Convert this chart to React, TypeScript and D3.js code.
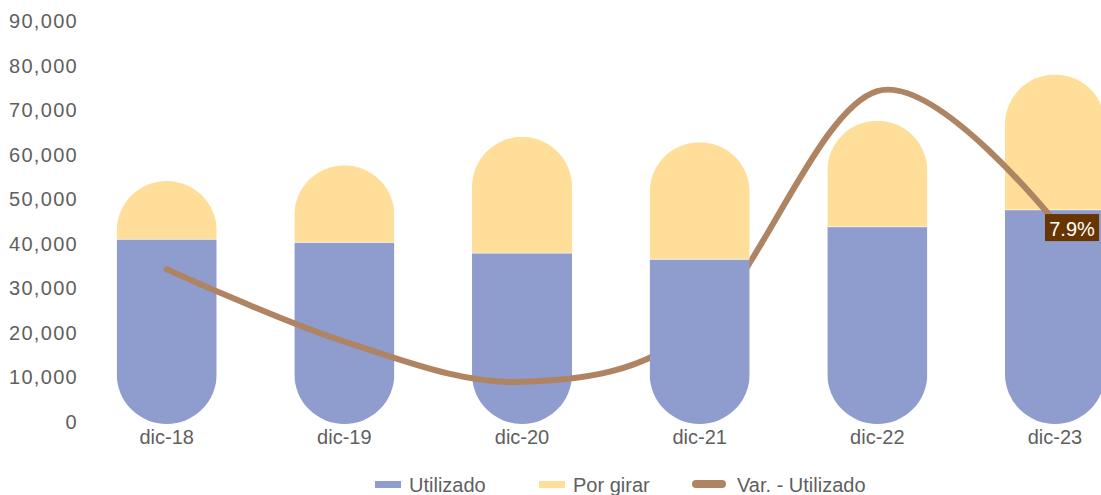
import React from "react";
import * as d3 from "d3";

const categories = ["dic-18", "dic-19", "dic-20", "dic-21", "dic-22", "dic-23"];
const utilizado = [41000, 40300, 37900, 36500, 43800, 47600];
const porGirar = [13100, 17300, 26100, 26300, 23800, 30400];
const varUtilizado = [3.8, -2.5, -6.0, -1.2, 19.3, 7.9];
const yTicks = [0, 10000, 20000, 30000, 40000, 50000, 60000, 70000, 80000, 90000];
const labeledPoints = ["dic-23"];
const barsAboveLine = ["dic-21"];

const W = 1101;
const H = 495;
const BLUE = "#8E9CCE";
const YELLOW = "#FFDE99";
const LINE = "#AF8462";
const TEXT = "#5f5f5f";
const FONT = "'Liberation Sans', Arial, sans-serif";

export default function App() {
  const x = d3.scalePoint<string>().domain(categories).range([166.7, 1055]);
  const y = d3.scaleLinear().domain([0, 90000]).range([422, 21]);
  const y2 = d3.scaleLinear().domain([-9.5, 25.4]).range([422, 21]);
  const barW = 100;
  const fmt = d3.format(",");

  const lineGen = d3
    .line<number>()
    .x((_, i) => x(categories[i]) as number)
    .y((d) => y2(d))
    .curve(d3.curveCardinal.tension(0));

  const bar = (c: string, i: number) => {
    const cx = x(c) as number;
    const total = utilizado[i] + porGirar[i];
    const top = y(total);
    const bottom = y(0) + 2;
    const id = `clip-${i}`;
    return (
      <g key={c}>
        <defs>
          <clipPath id={id}>
            <rect x={cx - barW / 2} y={top} width={barW} height={bottom - top} rx={barW / 2} ry={barW / 2} />
          </clipPath>
        </defs>
        <g clipPath={`url(#${id})`}>
          <rect x={cx - barW / 2} y={y(utilizado[i])} width={barW} height={bottom - y(utilizado[i])} fill={BLUE} />
          <rect x={cx - barW / 2} y={top} width={barW} height={y(utilizado[i]) - top} fill={YELLOW} />
          <line x1={cx - barW / 2} x2={cx + barW / 2} y1={y(utilizado[i])} y2={y(utilizado[i])} stroke="#ffffff" strokeOpacity={0.5} strokeWidth={1} />
        </g>
      </g>
    );
  };

  return (
    <svg width={W} height={H} style={{ position: "absolute", left: 0, top: 0, background: "#fff" }} fontFamily={FONT}>
      {yTicks.map((t) => (
        <text key={t} x={78} y={y(t)} textAnchor="end" dominantBaseline="central" fontSize={20} fill={TEXT} letterSpacing={1.3}>
          {fmt(t)}
        </text>
      ))}
      {categories.map((c) => (
        <text key={c} x={x(c) as number} y={437} textAnchor="middle" dominantBaseline="central" fontSize={20} fill={TEXT}>
          {c}
        </text>
      ))}
      {categories.map((c, i) => (barsAboveLine.includes(c) ? null : bar(c, i)))}
      <path d={lineGen(varUtilizado) || ""} fill="none" stroke={LINE} strokeWidth={6} strokeLinecap="round" strokeLinejoin="round" />
      {categories.map((c, i) => (barsAboveLine.includes(c) ? bar(c, i) : null))}
      {categories.map((c, i) => {
        if (!labeledPoints.includes(c)) return null;
        const px = x(c) as number;
        const py = y2(varUtilizado[i]);
        const bw = 54;
        const bh = 27;
        const bx = px - 10;
        const by = py - 8;
        return (
          <g key={`lbl-${c}`}>
            <rect x={bx} y={by} width={bw} height={bh} fill="#683400" />
            <text x={bx + bw / 2} y={by + bh / 2 + 1} textAnchor="middle" dominantBaseline="central" fontSize={20} fill="#ffffff">
              {d3.format(".1f")(varUtilizado[i]) + "%"}
            </text>
          </g>
        );
      })}
      <g>
        <rect x={375} y={481} width={26} height={7} fill={BLUE} />
        <text x={409} y={485} dominantBaseline="central" fontSize={20} fill={TEXT}>Utilizado</text>
        <rect x={539} y={481} width={26} height={7} fill={YELLOW} />
        <text x={573} y={485} dominantBaseline="central" fontSize={20} fill={TEXT}>Por girar</text>
        <line x1={696} x2={722} y1={484} y2={484} stroke={LINE} strokeWidth={8} strokeLinecap="round" />
        <text x={737} y={485} dominantBaseline="central" fontSize={20} fill={TEXT}>Var. - Utilizado</text>
      </g>
    </svg>
  );
}
